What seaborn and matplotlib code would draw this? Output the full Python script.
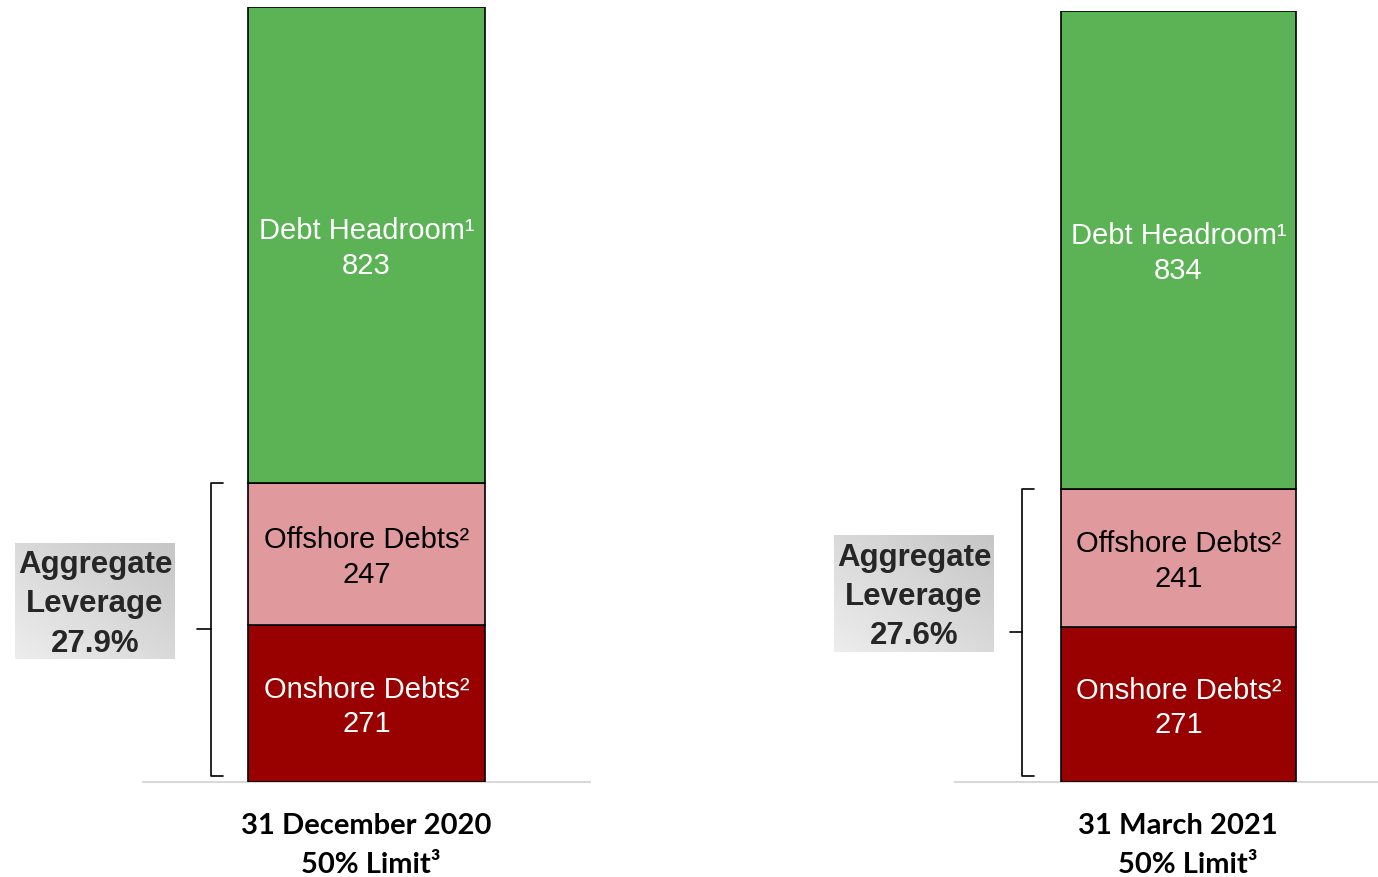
import numpy as np
import pandas as pd
import matplotlib
matplotlib.use("Agg")
import matplotlib.pyplot as plt
import matplotlib.transforms as mtransforms
from matplotlib.colors import LinearSegmentedColormap
import seaborn as sns

# data
periods = ["31 December 2020", "31 March 2021"]
onshore = [271, 271]
offshore = [247, 241]
headroom = [823, 834]
leverage = ["27.9%", "27.6%"]
limit_label = "50% Limit³"

segment_names = ["Onshore Debts²", "Offshore Debts²", "Debt Headroom¹"]
segment_colors = ["#990000", "#E09A9E", "#5BB356"]
segment_text = ["white", "black", "white"]

sns.set_style("white")
plt.rcParams["font.family"] = ["Liberation Sans", "DejaVu Sans"]

fig = plt.figure(figsize=(13.78, 8.77), dpi=100)

# layout of the two panels (figure fractions / axes fractions)
panels = [
    dict(rect=[143 / 1378, 95 / 877, 447 / 1378, 775 / 877], width=0.528, center=0.5,
         box=[15 / 1378, 218 / 877, 160 / 1378, 116 / 877], bx=(0.152, 0.178, 0.121), limit_dx=3),
    dict(rect=[955 / 1378, 95 / 877, 423 / 1378, 771 / 877], width=0.556, center=0.528,
         box=[834 / 1378, 225 / 877, 160 / 1378, 117 / 877], bx=(0.158, 0.187, 0.130), limit_dx=7),
]

box_cmap = LinearSegmentedColormap.from_list("box", ["#EDEDED", "#C6C6C6"])

for i, p in enumerate(panels):
    ax = fig.add_axes(p["rect"])
    df = pd.DataFrame({
        "period": [periods[i]] * 3,
        "segment": segment_names,
        "value": [onshore[i], offshore[i], headroom[i]],
    })
    bottoms = df["value"].cumsum() - df["value"]
    for j, row in df.iterrows():
        sns.barplot(x=[row.period], y=[row.value], bottom=bottoms[j], color=segment_colors[j],
                    saturation=1, width=p["width"], edgecolor="black", linewidth=1.2,
                    errorbar=None, ax=ax, zorder=3)
        labels = ax.bar_label(ax.containers[-1], labels=[f"{row.segment}\n{row.value}"],
                              label_type="center", color=segment_text[j], fontsize=21,
                              linespacing=1.3)
        for lab in labels:
            lab.xyann = (0, -2.5)

    total = df["value"].sum()
    ax.set_ylim(0, total)
    ax.set_xlim(-p["center"], 1 - p["center"])
    sns.despine(ax=ax, left=True)
    ax.spines["bottom"].set_color("#D9D9D9")
    ax.spines["bottom"].set_linewidth(1.5)
    ax.set_xticks([])
    ax.set_yticks([])
    ax.set_xlabel("")
    ax.set_ylabel("")

    # period labels under the bar
    trans = mtransforms.blended_transform_factory(ax.transData, ax.transAxes)
    ax.annotate(periods[i], xy=(0, 0), xycoords=trans, xytext=(0, -44 * 0.72),
                textcoords="offset points", ha="center", va="center", fontsize=21,
                fontweight="bold", family=["Lato", "DejaVu Sans"], color="black")
    ax.annotate(limit_label, xy=(0, 0), xycoords=trans, xytext=(p["limit_dx"], -83 * 0.72),
                textcoords="offset points", ha="center", va="center", fontsize=21,
                fontweight="bold", family=["Lato", "DejaVu Sans"], color="black")

    # bracket around the debt segments
    btrans = mtransforms.blended_transform_factory(ax.transAxes, ax.transData)
    top = onshore[i] + offshore[i]
    bot = total * 0.008
    mid = (top + bot) / 2
    xv, xh, xt = p["bx"]
    ax.plot([xh, xv, xv, xh], [top, top, bot, bot], transform=btrans, color="black",
            lw=1.2, clip_on=False)
    ax.plot([xv, xt], [mid, mid], transform=btrans, color="black", lw=1.2, clip_on=False)

    # aggregate leverage box with a soft gradient
    bax = fig.add_axes(p["box"])
    grad = np.add.outer(np.linspace(1, 0, 60), np.linspace(0, 1, 80)) / 2
    bax.imshow(grad, cmap=box_cmap, aspect="auto", extent=(0, 1, 0, 1), origin="upper")
    bax.axis("off")
    bax.text(0.5, 0.47, f"Aggregate\nLeverage\n{leverage[i]}", ha="center", va="center",
             fontsize=22.5, fontweight="bold", linespacing=1.4, transform=bax.transAxes)

fig.savefig("out.png", dpi=100)
